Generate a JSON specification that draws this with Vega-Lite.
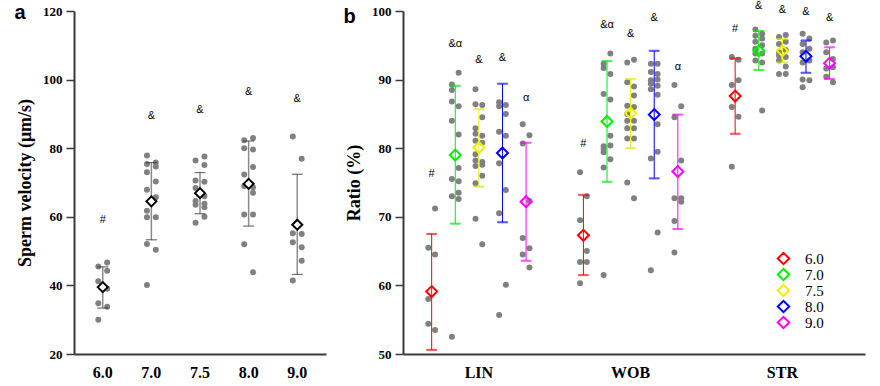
{
"$schema": "https://vega.github.io/schema/vega-lite/v6.json",
"padding": {"left": 14, "top": 0, "right": 5, "bottom": 2},
"spacing": 17,
"config": {
 "view": {"stroke": null},
 "axis": {"domainColor": "#3a3a3a", "domainWidth": 2, "tickColor": "#3a3a3a", "tickWidth": 1.5, "labelFont": "Liberation Serif", "labelFontWeight": "bold", "labelColor": "#000000", "labelFontSize": 13, "titleFont": "Liberation Serif", "titleFontWeight": "bold", "titleFontSize": 18, "titleColor": "#000000", "grid": false},
 "axisX": {"ticks": false, "labelFontSize": 16, "labelPadding": 10, "labelAngle": 0, "labelOverlap": false}
},
"datasets": {
 "ptsA": [
  {"ph":"6.0","s":"L","v":45.5},{"ph":"6.0","s":"L","v":41.2},{"ph":"6.0","s":"L","v":34.8},{"ph":"6.0","s":"L","v":30.0},
  {"ph":"6.0","s":"R","v":46.7},{"ph":"6.0","s":"R","v":44.3},{"ph":"6.0","s":"R","v":39.0},{"ph":"6.0","s":"R","v":33.8},
  {"ph":"7.0","s":"L","v":77.9},{"ph":"7.0","s":"L","v":75.4},{"ph":"7.0","s":"L","v":73.0},{"ph":"7.0","s":"L","v":67.9},{"ph":"7.0","s":"L","v":61.8},{"ph":"7.0","s":"L","v":59.9},{"ph":"7.0","s":"L","v":52.1},{"ph":"7.0","s":"L","v":40.1},
  {"ph":"7.0","s":"R","v":75.8},{"ph":"7.0","s":"R","v":74.7},{"ph":"7.0","s":"R","v":70.3},{"ph":"7.0","s":"R","v":65.7},{"ph":"7.0","s":"R","v":59.9},{"ph":"7.0","s":"R","v":50.4},
  {"ph":"7.5","s":"L","v":76.4},{"ph":"7.5","s":"L","v":70.6},{"ph":"7.5","s":"L","v":68.4},{"ph":"7.5","s":"L","v":64.6},{"ph":"7.5","s":"L","v":63.5},{"ph":"7.5","s":"L","v":58.3},
  {"ph":"7.5","s":"R","v":77.6},{"ph":"7.5","s":"R","v":75.1},{"ph":"7.5","s":"R","v":70.2},{"ph":"7.5","s":"R","v":66.0},{"ph":"7.5","s":"R","v":63.8},{"ph":"7.5","s":"R","v":62.8},{"ph":"7.5","s":"R","v":60.0},
  {"ph":"8.0","s":"L","v":82.3},{"ph":"8.0","s":"L","v":80.0},{"ph":"8.0","s":"L","v":72.3},{"ph":"8.0","s":"L","v":69.0},{"ph":"8.0","s":"L","v":60.7},{"ph":"8.0","s":"L","v":52.0},
  {"ph":"8.0","s":"R","v":83.0},{"ph":"8.0","s":"R","v":79.6},{"ph":"8.0","s":"R","v":74.5},{"ph":"8.0","s":"R","v":68.6},{"ph":"8.0","s":"R","v":67.0},{"ph":"8.0","s":"R","v":60.7},{"ph":"8.0","s":"R","v":43.8},
  {"ph":"9.0","s":"L","v":83.4},{"ph":"9.0","s":"L","v":55.2},{"ph":"9.0","s":"L","v":52.6},{"ph":"9.0","s":"L","v":41.4},
  {"ph":"9.0","s":"R","v":76.9},{"ph":"9.0","s":"R","v":55.0},{"ph":"9.0","s":"R","v":51.1},{"ph":"9.0","s":"R","v":47.2}
 ],
 "meanA": [
  {"ph":"6.0","mean":39.5,"lo":33.4,"hi":45.4,"lab":"#","ly":59.1},
  {"ph":"7.0","mean":64.5,"lo":53.3,"hi":75.8,"lab":"&","ly":89.3},
  {"ph":"7.5","mean":66.9,"lo":60.9,"hi":72.9,"lab":"&","ly":91.0},
  {"ph":"8.0","mean":69.6,"lo":57.3,"hi":82.1,"lab":"&","ly":96.4},
  {"ph":"9.0","mean":57.7,"lo":43.2,"hi":72.4,"lab":"&","ly":94.4}
 ],
 "ptsB": [
  {"m":"LIN","ph":"6.0","s":"L","v":65.5},{"m":"LIN","ph":"6.0","s":"L","v":58.0},{"m":"LIN","ph":"6.0","s":"L","v":54.4},
  {"m":"LIN","ph":"6.0","s":"R","v":71.2},{"m":"LIN","ph":"6.0","s":"R","v":64.5},{"m":"LIN","ph":"6.0","s":"R","v":53.5},
  {"m":"LIN","ph":"7.0","s":"L","v":89.3},{"m":"LIN","ph":"7.0","s":"L","v":88.5},{"m":"LIN","ph":"7.0","s":"L","v":86.8},{"m":"LIN","ph":"7.0","s":"L","v":84.0},{"m":"LIN","ph":"7.0","s":"L","v":75.5},{"m":"LIN","ph":"7.0","s":"L","v":73.0},{"m":"LIN","ph":"7.0","s":"L","v":52.5},
  {"m":"LIN","ph":"7.0","s":"R","v":91.0},{"m":"LIN","ph":"7.0","s":"R","v":86.1},{"m":"LIN","ph":"7.0","s":"R","v":82.0},{"m":"LIN","ph":"7.0","s":"R","v":77.1},{"m":"LIN","ph":"7.0","s":"R","v":75.2},{"m":"LIN","ph":"7.0","s":"R","v":73.5},{"m":"LIN","ph":"7.0","s":"R","v":72.6},
  {"m":"LIN","ph":"7.5","s":"L","v":88.6},{"m":"LIN","ph":"7.5","s":"L","v":86.4},{"m":"LIN","ph":"7.5","s":"L","v":82.9},{"m":"LIN","ph":"7.5","s":"L","v":82.1},{"m":"LIN","ph":"7.5","s":"L","v":81.1},{"m":"LIN","ph":"7.5","s":"L","v":79.1},{"m":"LIN","ph":"7.5","s":"L","v":78.2},{"m":"LIN","ph":"7.5","s":"L","v":77.4},{"m":"LIN","ph":"7.5","s":"L","v":74.9},{"m":"LIN","ph":"7.5","s":"L","v":69.7},
  {"m":"LIN","ph":"7.5","s":"R","v":86.3},{"m":"LIN","ph":"7.5","s":"R","v":84.5},{"m":"LIN","ph":"7.5","s":"R","v":81.8},{"m":"LIN","ph":"7.5","s":"R","v":80.8},{"m":"LIN","ph":"7.5","s":"R","v":78.0},{"m":"LIN","ph":"7.5","s":"R","v":77.6},{"m":"LIN","ph":"7.5","s":"R","v":76.0},{"m":"LIN","ph":"7.5","s":"R","v":66.0},
  {"m":"LIN","ph":"8.0","s":"L","v":86.7},{"m":"LIN","ph":"8.0","s":"L","v":86.1},{"m":"LIN","ph":"8.0","s":"L","v":82.4},{"m":"LIN","ph":"8.0","s":"L","v":77.8},{"m":"LIN","ph":"8.0","s":"L","v":70.5},{"m":"LIN","ph":"8.0","s":"L","v":55.7},
  {"m":"LIN","ph":"8.0","s":"R","v":86.3},{"m":"LIN","ph":"8.0","s":"R","v":85.0},{"m":"LIN","ph":"8.0","s":"R","v":81.8},{"m":"LIN","ph":"8.0","s":"R","v":73.9},{"m":"LIN","ph":"8.0","s":"R","v":60.1},
  {"m":"LIN","ph":"9.0","s":"L","v":83.5},{"m":"LIN","ph":"9.0","s":"L","v":80.7},{"m":"LIN","ph":"9.0","s":"L","v":66.9},{"m":"LIN","ph":"9.0","s":"L","v":64.5},
  {"m":"LIN","ph":"9.0","s":"R","v":81.9},{"m":"LIN","ph":"9.0","s":"R","v":72.3},{"m":"LIN","ph":"9.0","s":"R","v":65.4},{"m":"LIN","ph":"9.0","s":"R","v":62.6},
  {"m":"WOB","ph":"6.0","s":"L","v":76.5},{"m":"WOB","ph":"6.0","s":"L","v":69.5},{"m":"WOB","ph":"6.0","s":"L","v":63.4},{"m":"WOB","ph":"6.0","s":"L","v":60.3},
  {"m":"WOB","ph":"6.0","s":"R","v":73.0},{"m":"WOB","ph":"6.0","s":"R","v":65.0},{"m":"WOB","ph":"6.0","s":"R","v":63.4},
  {"m":"WOB","ph":"7.0","s":"L","v":92.3},{"m":"WOB","ph":"7.0","s":"L","v":91.7},{"m":"WOB","ph":"7.0","s":"L","v":87.9},{"m":"WOB","ph":"7.0","s":"L","v":80.3},{"m":"WOB","ph":"7.0","s":"L","v":79.9},{"m":"WOB","ph":"7.0","s":"L","v":79.4},{"m":"WOB","ph":"7.0","s":"L","v":77.2},{"m":"WOB","ph":"7.0","s":"L","v":61.5},
  {"m":"WOB","ph":"7.0","s":"R","v":93.8},{"m":"WOB","ph":"7.0","s":"R","v":90.8},{"m":"WOB","ph":"7.0","s":"R","v":87.1},{"m":"WOB","ph":"7.0","s":"R","v":81.8},{"m":"WOB","ph":"7.0","s":"R","v":80.4},{"m":"WOB","ph":"7.0","s":"R","v":78.4},
  {"m":"WOB","ph":"7.5","s":"L","v":92.5},{"m":"WOB","ph":"7.5","s":"L","v":89.6},{"m":"WOB","ph":"7.5","s":"L","v":86.2},{"m":"WOB","ph":"7.5","s":"L","v":85.0},{"m":"WOB","ph":"7.5","s":"L","v":84.0},{"m":"WOB","ph":"7.5","s":"L","v":82.9},{"m":"WOB","ph":"7.5","s":"L","v":81.4},{"m":"WOB","ph":"7.5","s":"L","v":75.0},
  {"m":"WOB","ph":"7.5","s":"R","v":92.9},{"m":"WOB","ph":"7.5","s":"R","v":89.0},{"m":"WOB","ph":"7.5","s":"R","v":87.7},{"m":"WOB","ph":"7.5","s":"R","v":86.0},{"m":"WOB","ph":"7.5","s":"R","v":84.0},{"m":"WOB","ph":"7.5","s":"R","v":82.9},{"m":"WOB","ph":"7.5","s":"R","v":81.4},{"m":"WOB","ph":"7.5","s":"R","v":72.7},
  {"m":"WOB","ph":"8.0","s":"L","v":92.3},{"m":"WOB","ph":"8.0","s":"L","v":91.1},{"m":"WOB","ph":"8.0","s":"L","v":89.9},{"m":"WOB","ph":"8.0","s":"L","v":89.4},{"m":"WOB","ph":"8.0","s":"L","v":88.6},{"m":"WOB","ph":"8.0","s":"L","v":78.5},{"m":"WOB","ph":"8.0","s":"L","v":62.2},
  {"m":"WOB","ph":"8.0","s":"R","v":92.3},{"m":"WOB","ph":"8.0","s":"R","v":90.8},{"m":"WOB","ph":"8.0","s":"R","v":90.0},{"m":"WOB","ph":"8.0","s":"R","v":89.1},{"m":"WOB","ph":"8.0","s":"R","v":87.8},{"m":"WOB","ph":"8.0","s":"R","v":83.5},{"m":"WOB","ph":"8.0","s":"R","v":79.5},{"m":"WOB","ph":"8.0","s":"R","v":67.7},
  {"m":"WOB","ph":"9.0","s":"L","v":89.2},{"m":"WOB","ph":"9.0","s":"L","v":84.5},{"m":"WOB","ph":"9.0","s":"L","v":72.7},{"m":"WOB","ph":"9.0","s":"L","v":69.4},{"m":"WOB","ph":"9.0","s":"L","v":64.8},
  {"m":"WOB","ph":"9.0","s":"R","v":86.1},{"m":"WOB","ph":"9.0","s":"R","v":78.2},{"m":"WOB","ph":"9.0","s":"R","v":72.7},{"m":"WOB","ph":"9.0","s":"R","v":72.2},
  {"m":"STR","ph":"6.0","s":"L","v":93.3},{"m":"STR","ph":"6.0","s":"L","v":89.2},{"m":"STR","ph":"6.0","s":"L","v":86.0},{"m":"STR","ph":"6.0","s":"L","v":77.3},
  {"m":"STR","ph":"6.0","s":"R","v":92.9},{"m":"STR","ph":"6.0","s":"R","v":89.9},{"m":"STR","ph":"6.0","s":"R","v":84.6},
  {"m":"STR","ph":"7.0","s":"L","v":97.3},{"m":"STR","ph":"7.0","s":"L","v":96.4},{"m":"STR","ph":"7.0","s":"L","v":95.5},{"m":"STR","ph":"7.0","s":"L","v":94.5},{"m":"STR","ph":"7.0","s":"L","v":93.8},{"m":"STR","ph":"7.0","s":"L","v":92.8},
  {"m":"STR","ph":"7.0","s":"R","v":96.7},{"m":"STR","ph":"7.0","s":"R","v":96.0},{"m":"STR","ph":"7.0","s":"R","v":95.0},{"m":"STR","ph":"7.0","s":"R","v":93.8},{"m":"STR","ph":"7.0","s":"R","v":92.5},{"m":"STR","ph":"7.0","s":"R","v":85.5},
  {"m":"STR","ph":"7.5","s":"L","v":96.2},{"m":"STR","ph":"7.5","s":"L","v":95.2},{"m":"STR","ph":"7.5","s":"L","v":94.0},{"m":"STR","ph":"7.5","s":"L","v":93.5},{"m":"STR","ph":"7.5","s":"L","v":92.8},{"m":"STR","ph":"7.5","s":"L","v":90.8},
  {"m":"STR","ph":"7.5","s":"R","v":96.5},{"m":"STR","ph":"7.5","s":"R","v":95.5},{"m":"STR","ph":"7.5","s":"R","v":94.3},{"m":"STR","ph":"7.5","s":"R","v":93.3},{"m":"STR","ph":"7.5","s":"R","v":91.9},{"m":"STR","ph":"7.5","s":"R","v":90.8},
  {"m":"STR","ph":"8.0","s":"L","v":96.7},{"m":"STR","ph":"8.0","s":"L","v":95.2},{"m":"STR","ph":"8.0","s":"L","v":94.0},{"m":"STR","ph":"8.0","s":"L","v":92.5},{"m":"STR","ph":"8.0","s":"L","v":90.0},{"m":"STR","ph":"8.0","s":"L","v":88.9},
  {"m":"STR","ph":"8.0","s":"R","v":96.0},{"m":"STR","ph":"8.0","s":"R","v":94.5},{"m":"STR","ph":"8.0","s":"R","v":92.8},{"m":"STR","ph":"8.0","s":"R","v":89.9},
  {"m":"STR","ph":"9.0","s":"L","v":95.4},{"m":"STR","ph":"9.0","s":"L","v":94.0},{"m":"STR","ph":"9.0","s":"L","v":91.6},{"m":"STR","ph":"9.0","s":"L","v":90.4},
  {"m":"STR","ph":"9.0","s":"R","v":95.7},{"m":"STR","ph":"9.0","s":"R","v":93.0},{"m":"STR","ph":"9.0","s":"R","v":91.8},{"m":"STR","ph":"9.0","s":"R","v":89.6}
 ],
 "meanB": [
  {"m":"LIN","ph":"6.0","mean":59.1,"lo":50.6,"hi":67.5,"lab":"#","ly":76.2},
  {"m":"LIN","ph":"7.0","mean":79.0,"lo":69.0,"hi":89.1,"lab":"&α","ly":95.2},
  {"m":"LIN","ph":"7.5","mean":80.1,"lo":74.4,"hi":85.7,"lab":"&","ly":92.8},
  {"m":"LIN","ph":"8.0","mean":79.3,"lo":69.2,"hi":89.4,"lab":"&","ly":93.1},
  {"m":"LIN","ph":"9.0","mean":72.2,"lo":63.6,"hi":80.8,"lab":"α","ly":87.3},
  {"m":"WOB","ph":"6.0","mean":67.3,"lo":61.5,"hi":73.2,"lab":"#","ly":80.6},
  {"m":"WOB","ph":"7.0","mean":83.9,"lo":75.1,"hi":92.7,"lab":"&α","ly":98.0},
  {"m":"WOB","ph":"7.5","mean":85.1,"lo":80.0,"hi":90.1,"lab":"&","ly":96.7},
  {"m":"WOB","ph":"8.0","mean":84.9,"lo":75.6,"hi":94.2,"lab":"&","ly":99.0},
  {"m":"WOB","ph":"9.0","mean":76.6,"lo":68.2,"hi":84.9,"lab":"α","ly":91.8},
  {"m":"STR","ph":"6.0","mean":87.6,"lo":82.1,"hi":93.1,"lab":"#","ly":97.4},
  {"m":"STR","ph":"7.0","mean":94.2,"lo":91.4,"hi":97.1,"lab":"&","ly":100.7},
  {"m":"STR","ph":"7.5","mean":94.2,"lo":92.5,"hi":95.9,"lab":"&","ly":100.2},
  {"m":"STR","ph":"8.0","mean":93.4,"lo":91.0,"hi":95.7,"lab":"&","ly":99.9},
  {"m":"STR","ph":"9.0","mean":92.4,"lo":90.1,"hi":94.7,"lab":"&","ly":99.0}
 ]
},
"hconcat": [
 {
  "width": 252, "height": 343,
  "title": {"text": "a", "anchor": "start", "frame": "bounds", "font": "Liberation Sans", "fontSize": 20, "fontWeight": "bold", "color": "#000000", "offset": -18, "dx": -2},
  "encoding": {
   "x": {"field": "slot", "type": "nominal", "title": null,
    "scale": {"paddingInner": 0, "paddingOuter": 5.6, "domain": [
     "6.0|1","6.0|2","6.0|3","6.0|4","6.0|L","6.0|C","6.0|R","6.0|5","6.0|6","6.0|7","6.0|8",
     "7.0|1","7.0|2","7.0|3","7.0|4","7.0|L","7.0|C","7.0|R","7.0|5","7.0|6","7.0|7","7.0|8",
     "7.5|1","7.5|2","7.5|3","7.5|4","7.5|L","7.5|C","7.5|R","7.5|5","7.5|6","7.5|7","7.5|8",
     "8.0|1","8.0|2","8.0|3","8.0|4","8.0|L","8.0|C","8.0|R","8.0|5","8.0|6","8.0|7","8.0|8",
     "9.0|1","9.0|2","9.0|3","9.0|4","9.0|L","9.0|C","9.0|R","9.0|5","9.0|6","9.0|7","9.0|8"]},
    "axis": {"labelExpr": "indexof(datum.value, '|C') > 0 ? split(datum.value, '|')[0] : ''"}}
  },
  "layer": [
   {"data": {"name": "ptsA"}, "transform": [{"calculate": "datum.ph + '|' + datum.s", "as": "slot"}],
    "mark": {"type": "circle", "size": 36, "color": "#808080", "opacity": 1},
    "encoding": {
     "y": {"field": "v", "type": "quantitative", "title": "Sperm velocity (μm/s)", "scale": {"domain": [20, 120], "nice": false, "zero": false},
      "axis": {"values": [20,30,40,50,60,70,80,90,100,110,120], "labelExpr": "datum.value % 20 === 0 ? datum.label : ''", "tickSize": {"condition": {"test": "datum.value % 20 === 0", "value": 8}, "value": 5}, "labelPadding": 4, "titlePadding": 8}}
    }},
   {"data": {"name": "meanA"}, "transform": [{"calculate": "datum.ph + '|C'", "as": "slot"}],
    "mark": {"type": "rule", "color": "#8c8c8c", "strokeWidth": 1.5},
    "encoding": {"y": {"field": "lo", "type": "quantitative", "title": "Sperm velocity (μm/s)"}, "y2": {"field": "hi"}}},
   {"data": {"name": "meanA"}, "transform": [{"calculate": "datum.ph + '|C'", "as": "slot"}],
    "mark": {"type": "tick", "color": "#333333", "size": 11, "thickness": 1.2},
    "encoding": {"y": {"field": "lo", "type": "quantitative", "title": "Sperm velocity (μm/s)"}}},
   {"data": {"name": "meanA"}, "transform": [{"calculate": "datum.ph + '|C'", "as": "slot"}],
    "mark": {"type": "tick", "color": "#333333", "size": 11, "thickness": 1.2},
    "encoding": {"y": {"field": "hi", "type": "quantitative", "title": "Sperm velocity (μm/s)"}}},
   {"data": {"name": "meanA"}, "transform": [{"calculate": "datum.ph + '|C'", "as": "slot"}],
    "mark": {"type": "point", "shape": "diamond", "size": 100, "filled": true, "fill": "#ffffff", "stroke": "#000000", "strokeWidth": 2, "opacity": 1},
    "encoding": {"y": {"field": "mean", "type": "quantitative", "title": "Sperm velocity (μm/s)"}}},
   {"data": {"name": "meanA"}, "transform": [{"calculate": "datum.ph + '|C'", "as": "slot"}],
    "mark": {"type": "text", "font": "Liberation Sans", "fontSize": 11, "baseline": "middle", "color": "#000000"},
    "encoding": {"y": {"field": "ly", "type": "quantitative", "title": "Sperm velocity (μm/s)"}, "text": {"field": "lab"}}}
  ]
 },
 {
  "width": 462, "height": 343,
  "title": {"text": "b", "anchor": "start", "frame": "bounds", "font": "Liberation Sans", "fontSize": 20, "fontWeight": "bold", "color": "#000000", "offset": -27, "dx": -2},
  "encoding": {
   "x": {"field": "slot", "type": "nominal", "title": null,
    "scale": {"paddingInner": 0, "paddingOuter": 1.8, "align": 0, "domain": [
     "LIN|1","LIN|2","LIN|3","LIN|4","LIN|5",
     "LIN|6.0|1","LIN|6.0|2","LIN|6.0|L","LIN|6.0|C","LIN|6.0|R","LIN|6.0|3","LIN|6.0|4",
     "LIN|7.0|1","LIN|7.0|2","LIN|7.0|L","LIN|7.0|C","LIN|7.0|R","LIN|7.0|3","LIN|7.0|4",
     "LIN|7.5|1","LIN|7.5|2","LIN|7.5|L","LIN|7.5|C","LIN|7.5|R","LIN|7.5|3","LIN|7.5|4",
     "LIN|8.0|1","LIN|8.0|2","LIN|8.0|L","LIN|8.0|C","LIN|8.0|R","LIN|8.0|3","LIN|8.0|4",
     "LIN|9.0|1","LIN|9.0|2","LIN|9.0|L","LIN|9.0|C","LIN|9.0|R","LIN|9.0|3","LIN|9.0|4",
     "LIN|6","LIN|7","LIN|8","LIN|9","LIN|10",
     "WOB|1","WOB|2","WOB|3","WOB|4","WOB|5",
     "WOB|6.0|1","WOB|6.0|2","WOB|6.0|L","WOB|6.0|C","WOB|6.0|R","WOB|6.0|3","WOB|6.0|4",
     "WOB|7.0|1","WOB|7.0|2","WOB|7.0|L","WOB|7.0|C","WOB|7.0|R","WOB|7.0|3","WOB|7.0|4",
     "WOB|7.5|1","WOB|7.5|2","WOB|7.5|L","WOB|7.5|C","WOB|7.5|R","WOB|7.5|3","WOB|7.5|4",
     "WOB|8.0|1","WOB|8.0|2","WOB|8.0|L","WOB|8.0|C","WOB|8.0|R","WOB|8.0|3","WOB|8.0|4",
     "WOB|9.0|1","WOB|9.0|2","WOB|9.0|L","WOB|9.0|C","WOB|9.0|R","WOB|9.0|3","WOB|9.0|4",
     "WOB|6","WOB|7","WOB|8","WOB|9","WOB|10",
     "STR|1","STR|2","STR|3","STR|4","STR|5",
     "STR|6.0|1","STR|6.0|2","STR|6.0|L","STR|6.0|C","STR|6.0|R","STR|6.0|3","STR|6.0|4",
     "STR|7.0|1","STR|7.0|2","STR|7.0|L","STR|7.0|C","STR|7.0|R","STR|7.0|3","STR|7.0|4",
     "STR|7.5|1","STR|7.5|2","STR|7.5|L","STR|7.5|C","STR|7.5|R","STR|7.5|3","STR|7.5|4",
     "STR|8.0|1","STR|8.0|2","STR|8.0|L","STR|8.0|C","STR|8.0|R","STR|8.0|3","STR|8.0|4",
     "STR|9.0|1","STR|9.0|2","STR|9.0|L","STR|9.0|C","STR|9.0|R","STR|9.0|3","STR|9.0|4",
     "STR|6","STR|7","STR|8","STR|9","STR|10"]},
    "axis": {"labelExpr": "indexof(datum.value, '|7.5|C') > 0 ? split(datum.value, '|')[0] : ''"}}
  },
  "layer": [
   {"data": {"name": "ptsB"}, "transform": [{"calculate": "datum.m + '|' + datum.ph + '|' + datum.s", "as": "slot"}],
    "mark": {"type": "circle", "size": 36, "color": "#808080", "opacity": 1},
    "encoding": {
     "y": {"field": "v", "type": "quantitative", "title": "Ratio (%)", "scale": {"domain": [50, 100], "nice": false, "zero": false},
      "axis": {"values": [50,55,60,65,70,75,80,85,90,95,100], "labelExpr": "datum.value % 10 === 0 ? datum.label : ''", "tickSize": {"condition": {"test": "datum.value % 10 === 0", "value": 8}, "value": 5}, "labelPadding": 4, "titlePadding": 8}}
    }},
   {"data": {"name": "meanB"}, "transform": [{"calculate": "datum.m + '|' + datum.ph + '|C'", "as": "slot"}],
    "mark": {"type": "rule", "strokeWidth": 1},
    "encoding": {"y": {"field": "lo", "type": "quantitative", "title": "Ratio (%)"}, "y2": {"field": "hi"},
     "stroke": {"field": "ph", "type": "nominal", "legend": null, "scale": {"domain": ["9.0","8.0","7.5","7.0","6.0"], "range": ["#ff00ff","#0000ff","#eeee00","#00ee00","#ff0000"]}}}},
   {"data": {"name": "meanB"}, "transform": [{"calculate": "datum.m + '|' + datum.ph + '|C'", "as": "slot"}],
    "mark": {"type": "tick", "size": 10, "thickness": 1},
    "encoding": {"y": {"field": "lo", "type": "quantitative", "title": "Ratio (%)"},
     "stroke": {"field": "ph", "type": "nominal", "legend": null}}},
   {"data": {"name": "meanB"}, "transform": [{"calculate": "datum.m + '|' + datum.ph + '|C'", "as": "slot"}],
    "mark": {"type": "tick", "size": 10, "thickness": 1},
    "encoding": {"y": {"field": "hi", "type": "quantitative", "title": "Ratio (%)"},
     "stroke": {"field": "ph", "type": "nominal", "legend": null}}},
   {"data": {"name": "meanB"}, "transform": [{"calculate": "datum.m + '|' + datum.ph + '|C'", "as": "slot"}],
    "mark": {"type": "point", "shape": "diamond", "size": 120, "filled": false, "strokeWidth": 2, "opacity": 1},
    "encoding": {"y": {"field": "mean", "type": "quantitative", "title": "Ratio (%)"},
     "color": {"field": "ph", "type": "nominal", "scale": {"domain": ["6.0","7.0","7.5","8.0","9.0"], "range": ["#ff0000","#00ee00","#eeee00","#0000ff","#ff00ff"]},
      "legend": {"title": null, "orient": "none", "legendX": 702, "legendY": 240, "symbolType": "diamond", "symbolStrokeWidth": 2, "symbolSize": 130, "symbolFillColor": "transparent", "labelFont": "Liberation Serif", "labelFontSize": 15, "labelColor": "#000000", "labelOffset": 14, "rowPadding": 0, "clipHeight": 15}}}},
   {"data": {"name": "meanB"}, "transform": [{"calculate": "datum.m + '|' + datum.ph + '|C'", "as": "slot"}],
    "mark": {"type": "text", "font": "Liberation Sans", "fontSize": 11, "baseline": "middle", "color": "#000000"},
    "encoding": {"y": {"field": "ly", "type": "quantitative", "title": "Ratio (%)"}, "text": {"field": "lab"}}}
  ]
 }
]
}
